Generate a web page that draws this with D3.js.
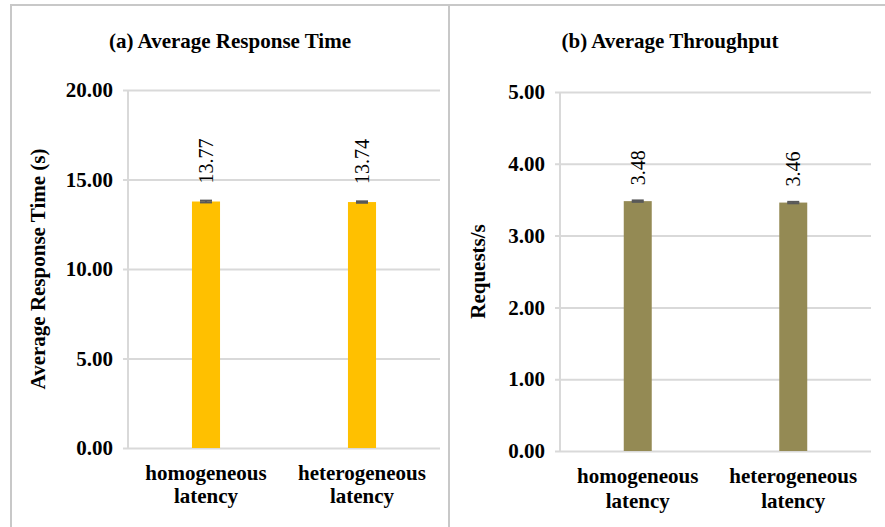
<!DOCTYPE html>
<html>
<head>
<meta charset="utf-8">
<script src="https://cdn.jsdelivr.net/npm/d3@7"></script>
<style>
  body { margin: 0; background: #fff; }
</style>
</head>
<body>
<div id="chart"></div>
<script>
// data
var categories = ["homogeneous latency", "heterogeneous latency"];
var responseTime = [13.77, 13.74];
var responseErr = [0.05, 0.04];
var throughput = [3.48, 3.46];
var throughputErr = [0.01, 0.01];
var responseTicks = [0, 5, 10, 15, 20];
var throughputTicks = [0, 1, 2, 3, 4, 5];

var W = 885, H = 527;
var gridColor = "#d9d9d9";
var serif = "'Liberation Serif', 'Times New Roman', 'DejaVu Serif', serif";

var svg = d3.select("#chart")
  .append("svg")
    .attr("width", W)
    .attr("height", H)
    .attr("font-family", serif);

// panel frames
svg.append("line").attr("x1", 11).attr("x2", W).attr("y1", 5).attr("y2", 5)
  .attr("stroke", "#c8c8c8").attr("stroke-width", 2);
svg.append("line").attr("x1", 11).attr("x2", 11).attr("y1", 4).attr("y2", H)
  .attr("stroke", "#c8c8c8").attr("stroke-width", 2);
svg.append("line").attr("x1", 449).attr("x2", 449).attr("y1", 4).attr("y2", H)
  .attr("stroke", "#c8c8c8").attr("stroke-width", 2);

function drawPanel(opt) {
  var g = svg.append("g")
    .attr("transform", "translate(" + opt.left + "," + opt.top + ")");

  var x = d3.scaleBand()
    .domain(categories)
    .range([0, opt.width])
    .paddingInner(0.82)
    .paddingOuter(0.41);

  var y = d3.scaleLinear()
    .domain([0, d3.max(opt.ticks)])
    .range([opt.height, 0]);

  // title
  svg.append("text")
    .attr("x", opt.titleX)
    .attr("y", 48)
    .attr("text-anchor", "middle")
    .style("font-family", serif)
    .style("font-size", "21px")
    .style("font-weight", "bold")
    .text(opt.title);

  // y axis + gridlines
  var yAxis = g.append("g")
    .call(d3.axisLeft(y).tickValues(opt.ticks).tickFormat(d3.format(".2f")).tickSize(0).tickPadding(15));
  yAxis.attr("font-family", serif);
  yAxis.select(".domain").remove();
  yAxis.selectAll(".tick line")
    .attr("x1", -5)
    .attr("x2", opt.width)
    .attr("stroke", gridColor)
    .attr("stroke-width", 2);
  yAxis.selectAll(".tick text")
    .attr("fill", "#000")
    .style("font-family", serif)
    .style("font-size", "21px")
    .style("font-weight", "bold");

  g.append("line")
    .attr("x1", 0).attr("x2", 0)
    .attr("y1", 0).attr("y2", opt.height)
    .attr("stroke", gridColor)
    .attr("stroke-width", 2);

  // x axis labels (two lines)
  var xAxis = g.append("g")
    .attr("transform", "translate(0," + opt.height + ")")
    .call(d3.axisBottom(x).tickSize(0).tickPadding(0));
  xAxis.attr("font-family", serif);
  xAxis.select(".domain").remove();
  xAxis.selectAll(".tick text").each(function(d) {
    var words = d.split(" ");
    var t = d3.select(this).text(null)
      .attr("y", null)
      .attr("dy", null)
      .attr("fill", "#000")
      .style("font-family", serif)
      .style("font-size", "21px")
      .style("font-weight", "bold");
    words.forEach(function(w, i) {
      t.append("tspan")
        .attr("x", 0)
        .attr("y", opt.catY[i])
        .text(w);
    });
  });

  // bars
  g.selectAll(".bar")
    .data(opt.values)
    .enter()
    .append("rect")
      .attr("class", "bar")
      .attr("x", function(d, i) { return x(categories[i]); })
      .attr("y", function(d) { return y(d); })
      .attr("width", x.bandwidth())
      .attr("height", function(d) { return opt.height - y(d); })
      .attr("fill", opt.color);

  // error bars
  var eb = g.selectAll(".err")
    .data(opt.values)
    .enter()
    .append("g")
      .attr("class", "err")
      .attr("stroke", "#595959")
      .attr("stroke-width", 2);
  eb.append("line")
    .attr("x1", function(d, i) { return x(categories[i]) + x.bandwidth() / 2; })
    .attr("x2", function(d, i) { return x(categories[i]) + x.bandwidth() / 2; })
    .attr("y1", function(d, i) { return y(d + opt.errors[i]); })
    .attr("y2", function(d, i) { return y(d - opt.errors[i]); });
  eb.append("line")
    .attr("x1", function(d, i) { return x(categories[i]) + x.bandwidth() / 2 - 6; })
    .attr("x2", function(d, i) { return x(categories[i]) + x.bandwidth() / 2 + 6; })
    .attr("y1", function(d, i) { return y(d + opt.errors[i]); })
    .attr("y2", function(d, i) { return y(d + opt.errors[i]); });
  eb.append("line")
    .attr("x1", function(d, i) { return x(categories[i]) + x.bandwidth() / 2 - 6; })
    .attr("x2", function(d, i) { return x(categories[i]) + x.bandwidth() / 2 + 6; })
    .attr("y1", function(d, i) { return y(d - opt.errors[i]); })
    .attr("y2", function(d, i) { return y(d - opt.errors[i]); });

  // value labels, rotated
  g.selectAll(".val")
    .data(opt.values)
    .enter()
    .append("text")
      .attr("class", "val")
      .attr("transform", function(d, i) {
        var cx = x(categories[i]) + x.bandwidth() / 2 + 7;
        return "translate(" + cx + "," + (y(d) - opt.labelGap) + ") rotate(-90)";
      })
      .attr("text-anchor", "start")
      .style("font-family", serif)
      .style("font-size", "20px")
      .text(function(d) { return d.toFixed(2); });

  // y axis title
  g.append("text")
    .attr("transform", "translate(" + opt.yTitleX + "," + (opt.height / 2) + ") rotate(-90)")
    .attr("text-anchor", "middle")
    .style("font-family", serif)
    .style("font-size", "21px")
    .style("font-weight", "bold")
    .text(opt.yTitle);
}

drawPanel({
  left: 128, top: 90, width: 312, height: 358,
  values: responseTime, errors: responseErr, ticks: responseTicks,
  color: "#ffc000", title: "(a) Average Response Time", titleX: 230,
  yTitle: "Average Response Time (s)", yTitleX: -83, labelGap: 18,
  catY: [32, 55]
});

drawPanel({
  left: 560, top: 92, width: 311, height: 359,
  values: throughput, errors: throughputErr, ticks: throughputTicks,
  color: "#948a54", title: "(b) Average Throughput", titleX: 670,
  yTitle: "Requests/s", yTitleX: -75, labelGap: 16,
  catY: [32, 57]
});
</script>
</body>
</html>
